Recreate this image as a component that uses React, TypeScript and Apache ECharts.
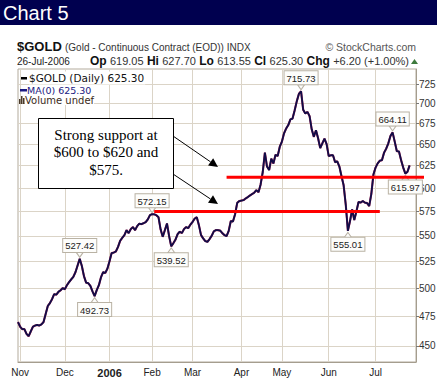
import React, { useEffect, useRef } from 'react';
import * as echarts from 'echarts';

// ---- categories: trading days (weekdays minus US market holidays) ----
const HOLIDAYS = ['2005-11-24', '2005-12-26', '2006-01-02', '2006-01-16', '2006-02-20', '2006-04-14', '2006-05-29', '2006-07-04'];
const MONTH_NAMES = ['Jan', 'Feb', 'Mar', 'Apr', 'May', 'Jun', 'Jul', 'Aug', 'Sep', 'Oct', 'Nov', 'Dec'];

function tradingDays(start: string, end: string): string[] {
  const out: string[] = [];
  const d = new Date(start + 'T00:00:00Z');
  const e = new Date(end + 'T00:00:00Z');
  while (d <= e) {
    const wd = d.getUTCDay();
    const s = d.toISOString().slice(0, 10);
    if (wd !== 0 && wd !== 6 && HOLIDAYS.indexOf(s) < 0) out.push(s);
    d.setUTCDate(d.getUTCDate() + 1);
  }
  return out;
}
const DATES = tradingDays('2005-10-31', '2006-07-31');

// ---- daily closes, per month ----
const CLOSE_OCT = [470];
const CLOSE_NOV = [466, 464, 464, 460, 458, 462, 466, 467, 467.5, 467, 468, 470, 477, 484, 486.5, 490, 494.5, 494, 496.6, 498, 500];
const CLOSE_DEC = [499, 502.7, 505.5, 508, 510.4, 514.7, 521, 527.42, 520.5, 511, 505, 504.5, 502, 497, 492.73, 498.2, 502.7, 510, 514.7, 514, 518];
const CLOSE_JAN = [525, 533, 533.5, 534.5, 539, 545, 548, 550.7, 555.7, 552.7, 556.8, 558.8, 555.7, 559.8, 562.3, 561.8, 562.8, 563.9, 566.7, 571.1];
const CLOSE_FEB = [572.15, 572, 571, 569, 556.5, 549, 555.7, 562.5, 549.7, 539.52, 542.7, 546.2, 551.7, 554.2, 552.7, 556.8, 558.8, 557.8, 561.3];
const CLOSE_MAR = [564, 567.5, 569, 560.8, 550.7, 547.4, 544.7, 544, 546.7, 550, 554.5, 555.7, 555.7, 555.2, 552.7, 550.7, 549.7, 555, 565, 564.5, 572, 584, 586];
const CLOSE_APR = [586.5, 587, 588.8, 590.3, 592, 593.5, 595, 597.7, 595.5, 604, 617.8, 640, 624, 620, 633, 627.5, 637.5, 636, 647];
const CLOSE_MAY = [653, 663, 668.8, 673, 680, 681, 691.5, 703, 712.5, 715.73, 692, 687.3, 689.4, 684, 667.8, 658.7, 666.7, 657, 645.3, 651, 656.5, 650];
const CLOSE_JUN = [636, 637, 637, 629, 630, 624, 613, 603, 582, 555.01, 565, 577, 566, 575, 585, 584.3, 586, 584.3, 583.8, 580.6, 593.5, 615];
const CLOSE_JUL = [622.8, 627.6, 630.7, 631.3, 640, 644.7, 651, 659.7, 664.11, 653, 641.7, 641.4, 631.3, 622.8, 615.97, 618.1, 625.3];
const GOLD_CLOSE = [
  ...CLOSE_OCT, ...CLOSE_NOV, ...CLOSE_DEC, ...CLOSE_JAN, ...CLOSE_FEB,
  ...CLOSE_MAR, ...CLOSE_APR, ...CLOSE_MAY, ...CLOSE_JUN, ...CLOSE_JUL,
];

// ---- price-axis ticks ----
const Y_TICKS = [450, 475, 500, 525, 550, 575, 600, 625, 650, 675, 700, 725];
const Y_MIN = 437;
const Y_MAX = 745.4;

// ---- annotated highs / lows ----
const POINT_LABELS = [
  { date: '2005-12-12', pos: 'top' },
  { date: '2005-12-21', pos: 'bottom' },
  { date: '2006-02-01', pos: 'top' },
  { date: '2006-02-14', pos: 'bottom' },
  { date: '2006-05-12', pos: 'top' },
  { date: '2006-06-14', pos: 'bottom' },
  { date: '2006-07-14', pos: 'top' },
  { date: '2006-07-24', pos: 'bottom' },
];

// ---- support lines ----
const SUPPORT_LINES = [
  { level: 612, from: '2006-03-23', to: '' },
  { level: 575, from: '2006-02-02', to: '2006-07-06' },
];

const FONT = "'Liberation Sans', Arial, sans-serif";
const SANS = "'DejaVu Sans', Verdana, sans-serif";
const GRID_COLOR = '#dbd4c7';

const MONTH_START = new Set<number>();
DATES.forEach((d, i) => {
  if (i > 0 && d.slice(5, 7) !== DATES[i - 1].slice(5, 7)) MONTH_START.add(i);
});

const TRI_DOWN = 'path://M0 0L10 0L5 7Z';
const TRI_UP = 'path://M5 0L10 7L0 7Z';

export default function App() {
  const ref = useRef<HTMLDivElement>(null);
  useEffect(() => {
    document.body.style.margin = '0';
    const chart = echarts.init(ref.current!, null, { renderer: 'svg' });

    chart.setOption({
      animation: false,
      backgroundColor: '#ffffff',
      grid: {
        left: 18, right: 28, top: 69, bottom: 20,
        show: true, borderColor: '#b3ab9c', borderWidth: 1, backgroundColor: '#ffffff',
      },
      xAxis: {
        type: 'category',
        data: DATES,
        boundaryGap: false,
        axisLine: { show: true, lineStyle: { color: '#a59d8e' } },
        axisTick: { show: false },
        axisLabel: {
          interval: (i: number) => MONTH_START.has(i),
          margin: 5,
          fontSize: 10,
          fontFamily: FONT,
          color: '#222',
          formatter: (v: string) => {
            const m = parseInt(v.slice(5, 7), 10) - 1;
            return m === 0 ? '{y|' + v.slice(0, 4) + '}' : MONTH_NAMES[m];
          },
          rich: { y: { fontWeight: 'bold', fontSize: 11, fontFamily: FONT, color: '#222' } },
        },
        splitLine: {
          show: true,
          interval: (i: number) => MONTH_START.has(i),
          lineStyle: { color: GRID_COLOR, width: 1 },
        },
      },
      yAxis: {
        type: 'log',
        position: 'right',
        min: Y_MIN,
        max: Y_MAX,
        axisLine: { show: true, lineStyle: { color: '#a59d8e' } },
        axisTick: { show: true, length: 3, customValues: Y_TICKS, lineStyle: { color: '#777' } },
        axisLabel: {
          customValues: Y_TICKS,
          margin: 3,
          fontSize: 10,
          fontFamily: FONT,
          color: '#333',
          formatter: (v: number) => String(Math.round(v)),
        },
        splitLine: { show: true, lineStyle: { color: GRID_COLOR, width: 1 } },
        minorTick: { show: false },
      },
      series: [
        {
          name: '$GOLD',
          type: 'line',
          data: GOLD_CLOSE,
          symbol: 'none',
          lineStyle: { color: '#b02a55', width: 2.1 },
          z: 3,
        },
        {
          name: 'MA(0)',
          type: 'line',
          data: GOLD_CLOSE,
          symbol: 'none',
          lineStyle: { color: '#100d48', width: 1.8 },
          z: 4,
          markPoint: {
            symbolSize: [7, 5],
            itemStyle: { color: '#fdfdfb', borderColor: '#b9b2a4', borderWidth: 1 },
            data: POINT_LABELS.map((l) => {
              const i = DATES.indexOf(l.date);
              const top = l.pos === 'top';
              return {
                coord: [l.date, GOLD_CLOSE[i]],
                value: GOLD_CLOSE[i].toFixed(2),
                symbol: top ? TRI_DOWN : TRI_UP,
                symbolOffset: [0, top ? -4 : 4],
                label: { position: l.pos },
              };
            }),
            label: {
              show: true,
              distance: 0,
              fontSize: 9.5,
              fontFamily: FONT,
              color: '#222',
              backgroundColor: '#fdfdfb',
              borderColor: '#b9b2a4',
              borderWidth: 1,
              padding: [2, 2, 1, 2],
              formatter: (p: any) => p.value,
            },
          },
        },
      ],
    });

    // support lines placed through the chart's own scales
    const redLines = SUPPORT_LINES.map((s) => {
      const p1 = chart.convertToPixel({ gridIndex: 0 }, [s.from, s.level]) as number[];
      let x2: number;
      if (s.to) {
        x2 = (chart.convertToPixel({ gridIndex: 0 }, [s.to, s.level]) as number[])[0];
      } else {
        x2 = (chart.convertToPixel({ gridIndex: 0 }, [DATES[DATES.length - 1], s.level]) as number[])[0] + 8;
      }
      return {
        type: 'line', z: 100,
        shape: { x1: p1[0], y1: p1[1], x2, y2: p1[1] },
        style: { stroke: '#ff0000', lineWidth: 3 },
      };
    });

    const arrows: any[] = [];
    const ARROW_SEGS = [[173, 136, 218, 167], [173, 174, 218, 204]];
    ARROW_SEGS.forEach(([x1, y1, x2, y2]) => {
      const ang = Math.atan2(y2 - y1, x2 - x1);
      const L = 9, W = 4.5;
      const bx = x2 - L * Math.cos(ang), by = y2 - L * Math.sin(ang);
      arrows.push({
        type: 'line', z: 20,
        shape: { x1, y1, x2: bx, y2: by },
        style: { stroke: '#000', lineWidth: 1 },
      });
      arrows.push({
        type: 'polygon', z: 20,
        shape: {
          points: [
            [x2, y2],
            [bx + W * Math.sin(ang), by - W * Math.cos(ang)],
            [bx - W * Math.sin(ang), by + W * Math.cos(ang)],
          ],
        },
        style: { fill: '#000' },
      });
    });

    chart.setOption({
      graphic: [
        // header bar
        { type: 'rect', z: 20, shape: { x: 0, y: 0, width: 437, height: 25 }, style: { fill: '#00004f' } },
        { type: 'text', z: 21, x: 3, y: 13, style: { text: 'Chart 5', fill: '#ffffff', fontSize: 20, fontFamily: FONT, verticalAlign: 'middle' } },
        // title rows
        { type: 'text', z: 20, x: 17, y: 46, style: { text: '$GOLD', fill: '#111', fontSize: 13, fontWeight: 'bold', fontFamily: FONT, verticalAlign: 'middle' } },
        { type: 'text', z: 20, x: 65, y: 47, style: { text: '(Gold - Continuous Contract (EOD)) INDX', fill: '#333', fontSize: 10, fontFamily: FONT, verticalAlign: 'middle' } },
        { type: 'text', z: 20, x: 416, y: 47, style: { text: '\u00a9 StockCharts.com', fill: '#555', fontSize: 10.5, fontFamily: FONT, align: 'right', verticalAlign: 'middle' } },
        { type: 'text', z: 20, x: 17, y: 61, style: { text: '26-Jul-2006', fill: '#222', fontSize: 10, fontFamily: FONT, verticalAlign: 'middle' } },
        {
          type: 'text', z: 20, x: 409, y: 61,
          style: {
            text: '{b|Op} {n|619.05} {b|Hi} {n|627.70} {b|Lo} {n|613.55} {b|Cl} {n|625.30} {b|Chg} {n|+6.20 (+1.00%)}',
            align: 'right', verticalAlign: 'middle',
            rich: {
              b: { fontSize: 12, fontWeight: 'bold', fontFamily: FONT, fill: '#111' },
              n: { fontSize: 11, fontFamily: FONT, fill: '#333' },
            },
          },
        },
        { type: 'polygon', z: 20, shape: { points: [[411, 64], [418, 64], [414.5, 59]] }, style: { fill: '#3d7a3d' } },
        // legend
        { type: 'rect', z: 20, shape: { x: 21, y: 77, width: 6, height: 2.5 }, style: { fill: '#000' } },
        { type: 'text', z: 20, x: 29, y: 78, style: { text: '$GOLD (Daily) 625.30', fill: '#111', fontSize: 10.5, fontFamily: SANS, verticalAlign: 'middle', backgroundColor: '#fff', padding: [1, 1, 1, 0] } },
        { type: 'rect', z: 20, shape: { x: 20, y: 89, width: 7, height: 2.5 }, style: { fill: '#1b1a82' } },
        { type: 'text', z: 20, x: 27, y: 90, style: { text: 'MA(0) 625.30', fill: '#1b1a82', fontSize: 9.5, fontFamily: SANS, verticalAlign: 'middle', backgroundColor: '#fff' } },
        { type: 'rect', z: 20, shape: { x: 19, y: 99, width: 1.5, height: 5 }, style: { fill: '#4a3a2a' } },
        { type: 'rect', z: 20, shape: { x: 21, y: 96, width: 1.5, height: 8 }, style: { fill: '#4a3a2a' } },
        { type: 'rect', z: 20, shape: { x: 23, y: 98, width: 1.5, height: 6 }, style: { fill: '#4a3a2a' } },
        { type: 'text', z: 20, x: 25, y: 100, style: { text: 'Volume undef', fill: '#3a2a1a', fontSize: 10, fontFamily: SANS, verticalAlign: 'middle', backgroundColor: '#fff' } },
        // call-out box
        { type: 'rect', z: 20, shape: { x: 38.5, y: 118.5, width: 135, height: 70 }, style: { fill: '#fff', stroke: '#000', lineWidth: 1 } },
        {
          type: 'text', z: 21, x: 106, y: 152,
          style: {
            text: 'Strong support at\n$600 to $620 and\n$575.',
            fill: '#000', fontSize: 15, lineHeight: 17.5,
            fontFamily: "'Liberation Serif', 'Times New Roman', serif",
            align: 'center', verticalAlign: 'middle',
          },
        },
        ...arrows,
        ...redLines,
      ],
    });

    return () => chart.dispose();
  }, []);
  return <div ref={ref} style={{ width: 444, height: 382 }} />;
}
